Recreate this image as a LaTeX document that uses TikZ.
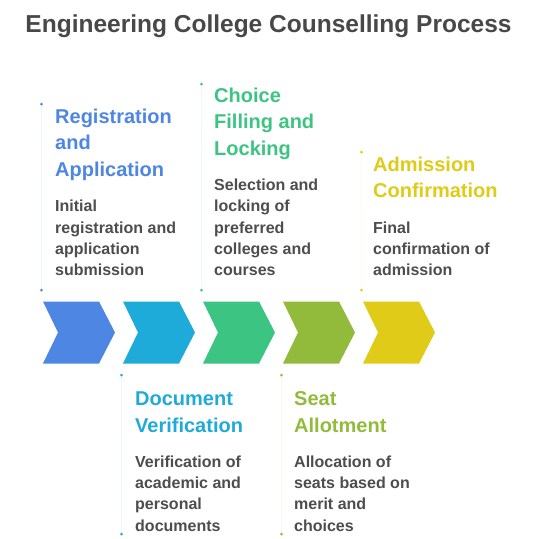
\documentclass[tikz,border=0pt]{standalone}
\usepackage{fontspec}
\setmainfont{Liberation Sans}
\usetikzlibrary{positioning}

\definecolor{regblue}{HTML}{4E86E4}
\definecolor{doccyan}{HTML}{1FABDA}
\definecolor{chogreen}{HTML}{3CC483}
\definecolor{seatolive}{HTML}{93BB3B}
\definecolor{admyellow}{HTML}{DFCB18}
\definecolor{titlegray}{HTML}{484848}
\definecolor{descgray}{HTML}{4D4D4D}

\begin{document}
\begin{tikzpicture}[x=1pt,y=-1pt,
  head/.style={inner sep=0pt, align=left, text=#1, font=\fontsize{20}{26.6}\selectfont\bfseries,
    execute at end node=\strut},
  desc/.style={inner sep=0pt, align=left, text=descgray, font=\fontsize{16}{21.3}\selectfont\bfseries,
    execute at end node=\strut},
  dot/.style={circle, fill=#1, inner sep=0pt, minimum size=3pt},
  stem/.style={draw=#1!8, line width=0.6pt}]

% White background fixes the page size
\fill [white] (0,0) rectangle (536,539);

\node (title) [anchor=base, text=titlegray, font=\fontsize{24.5}{30}\selectfont\bfseries] at (268.5,32.7) {Engineering College Counselling Process};

% Chevrons
\fill [regblue] (43,301.5) -- ++(56,0) -- ++(16,31) -- ++(-16,31) -- ++(-56,0) -- ++(15,-31) -- cycle;
\fill [doccyan] (123,301.5) -- ++(56,0) -- ++(16,31) -- ++(-16,31) -- ++(-56,0) -- ++(15,-31) -- cycle;
\fill [chogreen] (203,301.5) -- ++(56,0) -- ++(16,31) -- ++(-16,31) -- ++(-56,0) -- ++(15,-31) -- cycle;
\fill [seatolive] (283,301.5) -- ++(56,0) -- ++(16,31) -- ++(-16,31) -- ++(-56,0) -- ++(15,-31) -- cycle;
\fill [admyellow] (363,301.5) -- ++(56,0) -- ++(16,31) -- ++(-16,31) -- ++(-56,0) -- ++(15,-31) -- cycle;

% Stems with their end dots
\node (regTop) [dot=regblue] at (41.5,104) {};
\node (regBot) [dot=regblue] at (41.5,290) {};
\draw [stem=regblue] (regTop) -- (regBot);
\node (docTop) [dot=doccyan] at (121.5,375) {};
\node (docBot) [dot=doccyan] at (121.5,534) {};
\draw [stem=doccyan] (docTop) -- (docBot);
\node (choTop) [dot=chogreen] at (201.5,84) {};
\node (choBot) [dot=chogreen] at (201.5,290) {};
\draw [stem=chogreen] (choTop) -- (choBot);
\node (seatTop) [dot=seatolive] at (281.5,375) {};
\node (seatBot) [dot=seatolive] at (281.5,534) {};
\draw [stem=seatolive] (seatTop) -- (seatBot);
\node (admTop) [dot=admyellow] at (361.5,152) {};
\node (admBot) [dot=admyellow] at (361.5,290) {};
\draw [stem=admyellow] (admTop) -- (admBot);

% Steps above the arrows
\node (regDesc) [desc, anchor=south west] at (55,282.3) {\strut Initial\\registration and\\application\\submission};
\node (regHead) [head=regblue, above right=12pt and 0pt of regDesc.north west] {\strut Registration\\and\\Application};
\node (choDesc) [desc, anchor=south west] at (214,282.3) {\strut Selection and\\locking of\\preferred\\colleges and\\courses};
\node (choHead) [head=chogreen, above right=12pt and 0pt of choDesc.north west] {\strut Choice\\Filling and\\Locking};
\node (admDesc) [desc, anchor=south west] at (373,282.3) {\strut Final\\confirmation of\\admission};
\node (admHead) [head=admyellow, above right=12pt and 0pt of admDesc.north west] {\strut Admission\\Confirmation};

% Steps below the arrows
\node (docHead) [head=doccyan, anchor=north west] at (135,387) {\strut Document\\Verification};
\node (docDesc) [desc, below right=11.6pt and 0pt of docHead.south west] {\strut Verification of\\academic and\\personal\\documents};
\node (seatHead) [head=seatolive, anchor=north west] at (294,387) {\strut Seat\\Allotment};
\node (seatDesc) [desc, below right=11.6pt and 0pt of seatHead.south west] {\strut Allocation of\\seats based on\\merit and\\choices};

\end{tikzpicture}
\end{document}
